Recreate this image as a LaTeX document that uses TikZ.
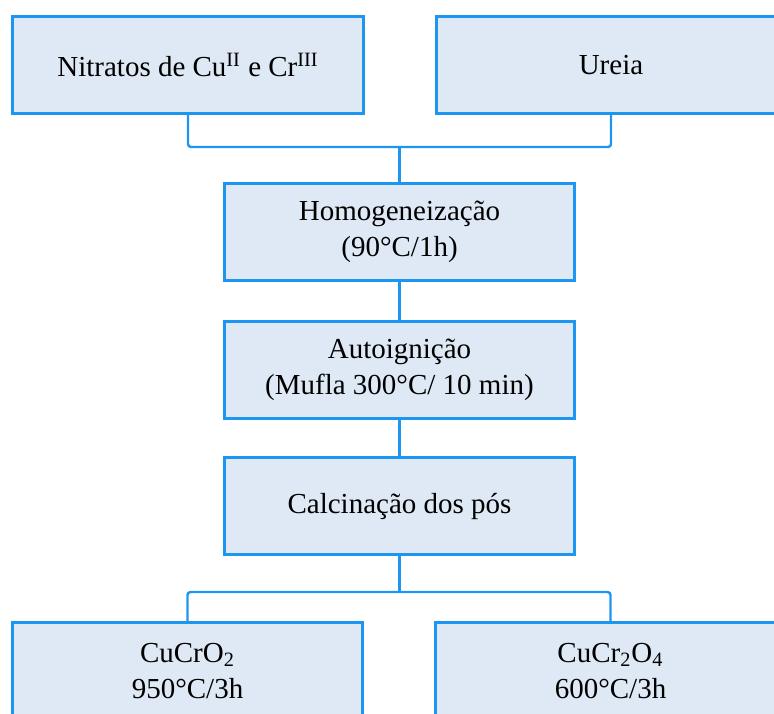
\documentclass[tikz,border=0pt]{standalone}
\usepackage{fontspec}
\setmainfont{Liberation Serif}
\usepackage{xcolor}
\usepackage{tikz}
\usetikzlibrary{positioning,calc}
\definecolor{flowEdge}{RGB}{28,150,240}
\definecolor{flowFill}{RGB}{222,233,245}
\tikzset{
    flowBox/.style={
        draw=flowEdge,
        line width=1.5pt,
        fill=flowFill,
        align=center,
        inner sep=0pt,
        minimum width=175pt,
        minimum height=48.5pt,
        font=\fontsize{14.5}{18.3}\selectfont
    },
    flowLink/.style={
        draw=flowEdge,
        line width=1.2pt,
        rounded corners=1.5pt
    }
}
\begin{document}
\begin{tikzpicture}
        \useasboundingbox (-94pt,32.5pt) rectangle ++(387pt,-356.5pt);

        \node[flowBox] (nitratos) at (0,0) {Nitratos de Cu\textsuperscript{II} e Cr\textsuperscript{III}};
        \node[flowBox,right=35pt of nitratos] (ureia) {Ureia};
        \coordinate (topJoin) at ($(nitratos.south)!0.5!(ureia.south)$);

        \node[flowBox,below=33.5pt of topJoin] (homog) {Homogeneização\\(90°C/1h)};
        \node[flowBox,below=19pt of homog] (auto) {Autoignição\\(Mufla 300°C/ 10 min)};
        \node[flowBox,below=18pt of auto] (calc) {Calcinação dos pós};

        \node[flowBox,below=32.5pt of calc,xshift=-106pt] (cucro) {CuCrO\textsubscript{2}\\950°C/3h};
        \node[flowBox,right=35pt of cucro] (cucrro) {CuCr\textsubscript{2}O\textsubscript{4}\\600°C/3h};

        \draw[flowLink] (nitratos.south) -- ++(0,-16pt) coordinate (barTop) -| (ureia.south);
        \draw[flowLink] (homog.north) -- (homog.north |- barTop);
        \draw[flowLink] (homog) -- (auto);
        \draw[flowLink] (auto) -- (calc);
        \draw[flowLink] (cucro.north) -- ++(0,14.5pt) coordinate (barBottom) -| (cucrro.north);
        \draw[flowLink] (calc.south) -- (calc.south |- barBottom);
    \end{tikzpicture}
\end{document}
